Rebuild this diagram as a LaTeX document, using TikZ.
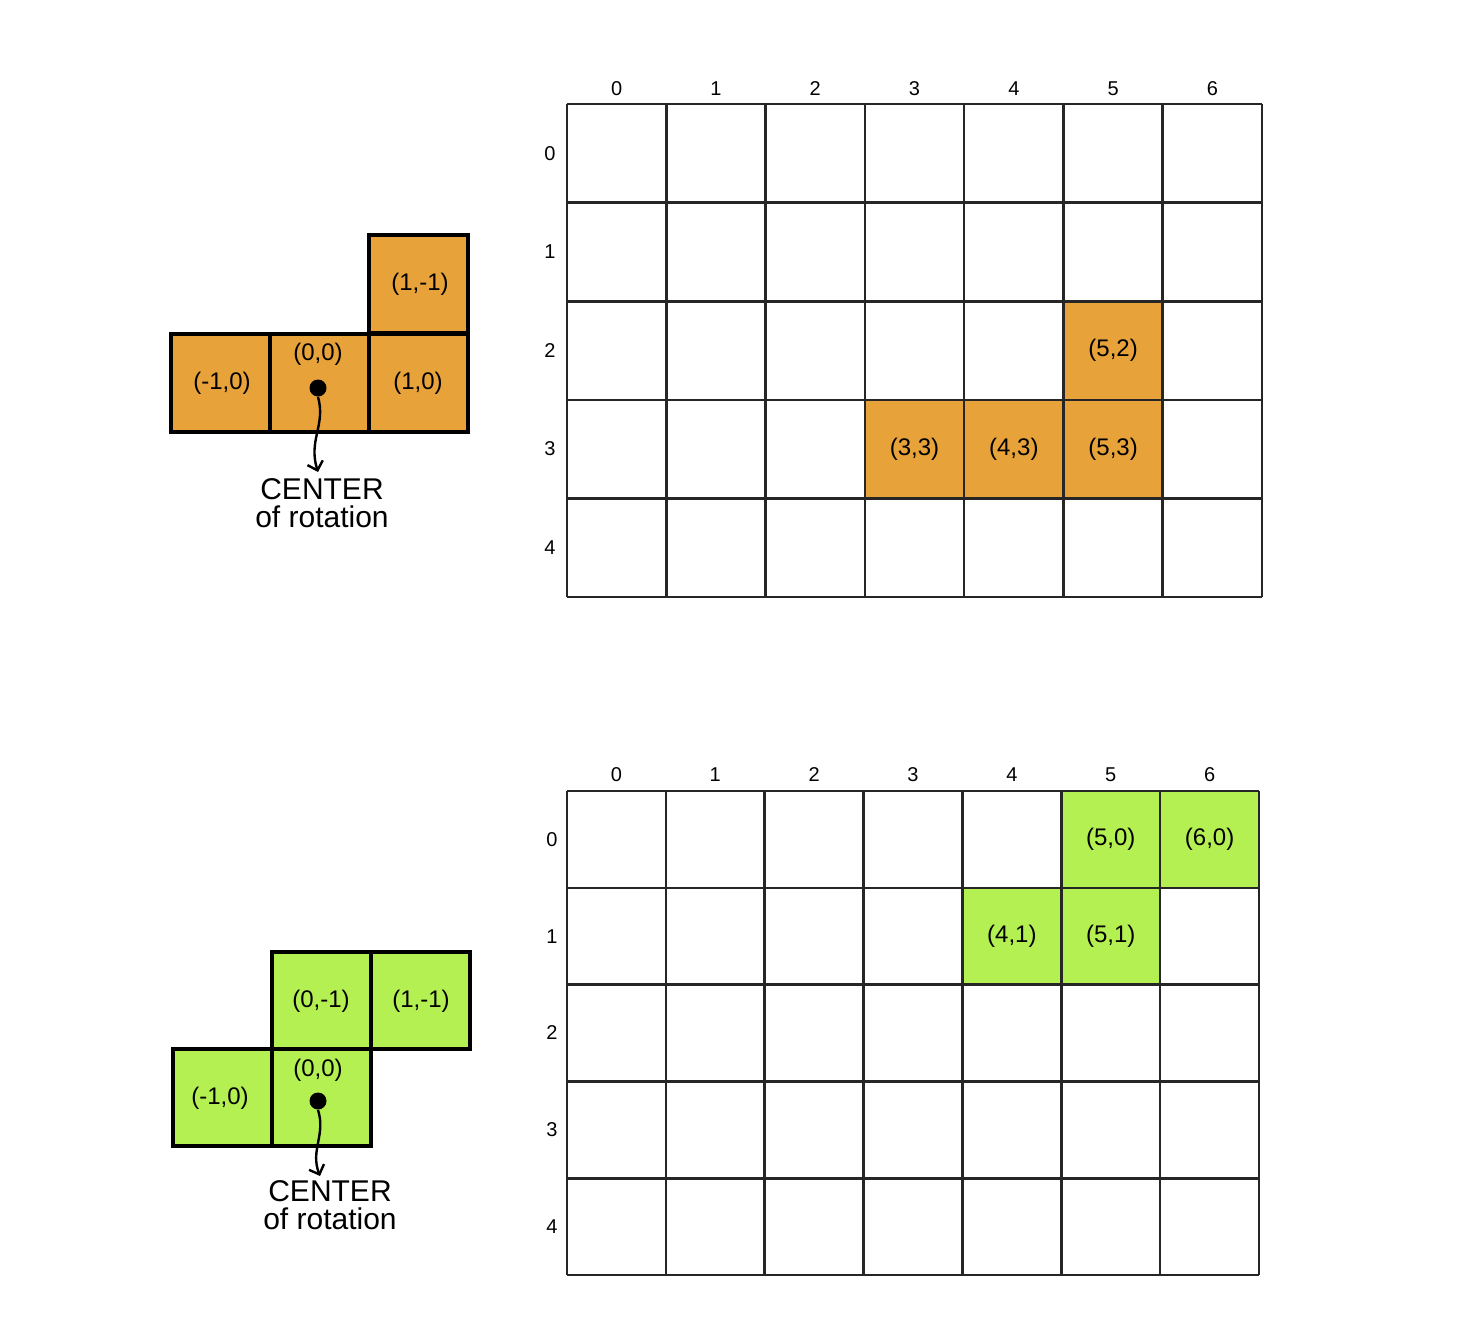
\documentclass[tikz,border=0pt]{standalone}
\usepackage{fontspec}
\setmainfont{Liberation Sans}
\usetikzlibrary{arrows.meta}
\definecolor{orng}{HTML}{E8A23A}
\definecolor{lgreen}{HTML}{B4F052}
\begin{document}
\begin{tikzpicture}[x=0.5pt,y=-0.5pt,
  gridline/.style={line width=1.3pt,draw=black!85},
  shapeline/.style={line width=1.6pt,draw=black},
  celllabel/.style={font=\fontsize{12}{14}\selectfont},
  axislabel/.style={font=\fontsize{10}{12}\selectfont},
  centerlabel/.style={font=\fontsize{15}{15}\selectfont,align=center,inner sep=0pt},
  dotnode/.style={circle,fill=black,inner sep=0pt,minimum size=8.5pt},
  curvearrow/.style={line width=1.2pt,-{Straight Barb[length=4pt,width=8pt]}}]
\useasboundingbox (0,0) rectangle (1465,1322);
\fill[white] (0,0) rectangle (1465,1322);

% ===== top left shape =====
\foreach \x/\y in {171/334,270/334,369/334,369/235}
  \filldraw[fill=orng,shapeline] (\x,\y) rectangle ++(99,98);
\node[celllabel] (a1) at (222,383) {(-1,0)};
\node[celllabel] (a2) at (318,354) {(0,0)};
\node[celllabel] (a3) at (418,383) {(1,0)};
\node[celllabel] (a4) at (420,284) {(1,-1)};
\node[dotnode] (adot) at (318,388) {};
\node[centerlabel] (alab) at (322,503) {CENTER\\[-1pt]of rotation};
\draw[curvearrow] (adot.south) .. controls (326,425) and (308,440) .. (318,472);

% ===== top grid =====
\def\tx{567}\def\ty{104}\def\tw{99.29}\def\th{98.6}
\foreach \c/\r in {5/2,3/3,4/3,5/3}
  \fill[orng] ({\tx+\c*\tw},{\ty+\r*\th}) rectangle ++(\tw,\th);
\foreach \i in {0,...,7}
  \draw[gridline] ({\tx+\i*\tw},\ty) -- ({\tx+\i*\tw},{\ty+5*\th});
\foreach \j in {0,...,5}
  \draw[gridline] (\tx,{\ty+\j*\th}) -- ({\tx+7*\tw},{\ty+\j*\th});
\foreach \i in {0,...,6}
  \node[axislabel] (tc\i) at ({\tx+(\i+0.5)*\tw},89) {\i};
\foreach \j in {0,...,4}
  \node[axislabel] (tr\j) at (550,{\ty+(\j+0.5)*\th}) {\j};
\node[celllabel] (t52) at ({\tx+5.5*\tw},{\ty+2.5*\th}) {(5,2)};
\node[celllabel] (t33) at ({\tx+3.5*\tw},{\ty+3.5*\th}) {(3,3)};
\node[celllabel] (t43) at ({\tx+4.5*\tw},{\ty+3.5*\th}) {(4,3)};
\node[celllabel] (t53) at ({\tx+5.5*\tw},{\ty+3.5*\th}) {(5,3)};

% ===== bottom left shape =====
\foreach \x/\y in {173/1049,272/1049,272/952,371/952}
  \filldraw[fill=lgreen,shapeline] (\x,\y) rectangle ++(99,97);
\node[celllabel] (b1) at (220,1098) {(-1,0)};
\node[celllabel] (b2) at (318,1070) {(0,0)};
\node[celllabel] (b3) at (321,1001) {(0,-1)};
\node[celllabel] (b4) at (421,1001) {(1,-1)};
\node[dotnode] (bdot) at (318,1101) {};
\node[centerlabel] (blab) at (330,1205) {CENTER\\[-1pt]of rotation};
\draw[curvearrow] (bdot.south) .. controls (326,1135) and (310,1150) .. (320,1176);

% ===== bottom grid =====
\def\bx{567}\def\by{791}\def\bw{98.86}\def\bh{96.8}
\foreach \c/\r in {5/0,6/0,4/1,5/1}
  \fill[lgreen] ({\bx+\c*\bw},{\by+\r*\bh}) rectangle ++(\bw,\bh);
\foreach \i in {0,...,7}
  \draw[gridline] ({\bx+\i*\bw},\by) -- ({\bx+\i*\bw},{\by+5*\bh});
\foreach \j in {0,...,5}
  \draw[gridline] (\bx,{\by+\j*\bh}) -- ({\bx+7*\bw},{\by+\j*\bh});
\foreach \i in {0,...,6}
  \node[axislabel] (bc\i) at ({\bx+(\i+0.5)*\bw},775) {\i};
\foreach \j in {0,...,4}
  \node[axislabel] (br\j) at (552,{\by+(\j+0.5)*\bh}) {\j};
\node[celllabel] (g50) at ({\bx+5.5*\bw},{\by+0.5*\bh}) {(5,0)};
\node[celllabel] (g60) at ({\bx+6.5*\bw},{\by+0.5*\bh}) {(6,0)};
\node[celllabel] (g41) at ({\bx+4.5*\bw},{\by+1.5*\bh}) {(4,1)};
\node[celllabel] (g51) at ({\bx+5.5*\bw},{\by+1.5*\bh}) {(5,1)};
\end{tikzpicture}
\end{document}
